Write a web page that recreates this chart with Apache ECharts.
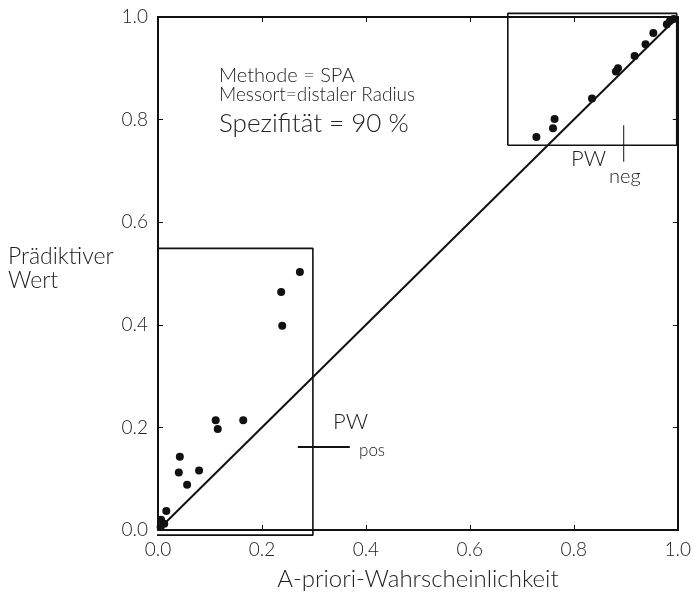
<!DOCTYPE html>
<html>
<head>
<meta charset="utf-8">
<script src="https://cdn.jsdelivr.net/npm/echarts@6/dist/echarts.min.js"></script>
<style>
  html, body { margin: 0; padding: 0; background: #fff; }
  #chart { width: 694px; height: 606px; }
</style>
</head>
<body>
<div id="chart"></div>
<script>
// Punkte im unteren Kasten (A-priori, PW pos)
var lowPoints = [
  [0.273, 0.503], [0.237, 0.464], [0.239, 0.398],
  [0.111, 0.214], [0.115, 0.197], [0.164, 0.214],
  [0.042, 0.143], [0.040, 0.112], [0.079, 0.116], [0.056, 0.088],
  [0.016, 0.037], [0.006, 0.020], [0.012, 0.012], [0.005, 0.006]
];
// Punkte im oberen Kasten (A-priori, PW neg)
var highPoints = [
  [0.992, 0.996], [0.985, 0.992], [0.979, 0.986], [0.953, 0.969],
  [0.938, 0.947], [0.917, 0.924], [0.885, 0.900], [0.881, 0.894],
  [0.835, 0.841], [0.763, 0.801], [0.760, 0.783], [0.728, 0.766]
];
var diagonal = [[0, 0], [1, 1]];
var lowBox = [[-0.014, -0.01], [0.298, -0.01], [0.298, 0.549], [-0.014, 0.549], [-0.014, -0.01]];
var highBox = [[0.673, 0.75], [0.998, 0.75], [0.998, 1.007], [0.673, 1.007], [0.673, 0.75]];
var pwPosMark = [[0.269, 0.162], [0.369, 0.162]];
var pwNegMark = [[0.896, 0.718], [0.896, 0.789]];
var tickLabels = ['0.0', '0.2', '0.4', '0.6', '0.8', '1.0'];

var font = "Lato, 'Open Sans', 'DejaVu Sans', sans-serif";
var ink = '#111';

function axis(pos, showLabels) {
  return {
    type: 'value',
    position: pos,
    min: 0, max: 1, interval: 0.2,
    axisLine: { show: true, onZero: false, lineStyle: { color: ink, width: 2 } },
    axisTick: { show: true, inside: true, length: 5, lineStyle: { color: ink, width: 1 } },
    axisLabel: {
      show: showLabels, color: '#222', fontSize: 19, fontWeight: 300, fontFamily: font, margin: 10,
      formatter: function (v) { return tickLabels[Math.round(v * 5)]; }
    },
    splitLine: { show: false }
  };
}

var chart = echarts.init(document.getElementById('chart'));
var xBottom = axis('bottom', true);
xBottom.name = 'A-priori-Wahrscheinlichkeit';
xBottom.nameLocation = 'middle';
xBottom.nameGap = 37;
xBottom.nameTextStyle = { color: '#222', fontSize: 24, fontWeight: 300, fontFamily: font };

function lineSeries(data, width) {
  return {
    type: 'line', data: data, symbol: 'none', clip: false, silent: true,
    lineStyle: { color: ink, width: width }, animation: false
  };
}

function label(text, x, y, size) {
  return { type: 'text', left: x, top: y,
    style: { text: text, font: '300 ' + size + 'px ' + font, fill: '#222', lineHeight: 24 } };
}

chart.setOption({
  animation: false,
  grid: { left: 158, right: 15, top: 17, bottom: 76 },
  xAxis: [xBottom, axis('top', false)],
  yAxis: [axis('left', true), axis('right', false)],
  series: [
    lineSeries(diagonal, 2),
    lineSeries(lowBox, 1.6),
    lineSeries(highBox, 1.6),
    lineSeries(pwPosMark, 2),
    lineSeries(pwNegMark, 1),
    { type: 'scatter', data: lowPoints, symbolSize: 8, itemStyle: { color: ink, opacity: 1 } },
    { type: 'scatter', data: highPoints, symbolSize: 8, itemStyle: { color: ink, opacity: 1 } }
  ],
  graphic: [
    label('Methode = SPA', 219, 64, 20),
    label('Messort=distaler Radius', 219, 83, 19),
    label('Spezifität = 90 %', 219, 111, 26),
    label('Prädiktiver\nWert', 8, 245, 23),
    label('PW', 333, 410, 22),
    label('pos', 359, 439, 17),
    label('PW', 571, 147, 22),
    label('neg', 609, 165, 20)
  ]
});
</script>
</body>
</html>
